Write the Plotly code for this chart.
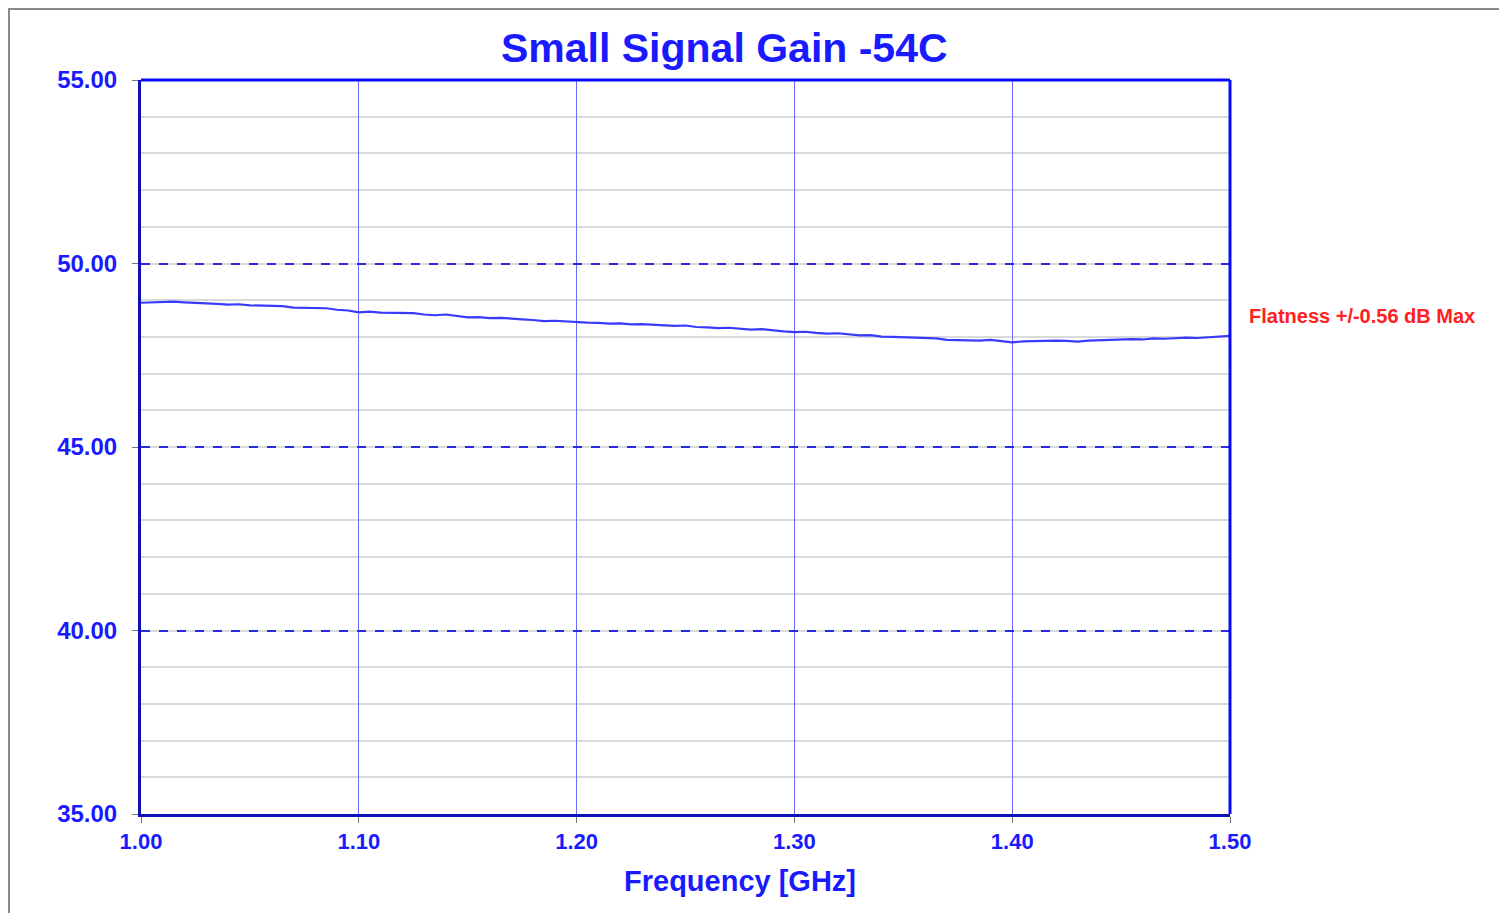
import plotly.graph_objects as go

freq_ghz = [1.000, 1.005, 1.010, 1.015, 1.020, 1.025, 1.030, 1.035, 1.040, 1.045,
            1.050, 1.055, 1.060, 1.065, 1.070, 1.075, 1.080, 1.085, 1.090, 1.095,
            1.100, 1.105, 1.110, 1.115, 1.120, 1.125, 1.130, 1.135, 1.140, 1.145,
            1.150, 1.155, 1.160, 1.165, 1.170, 1.175, 1.180, 1.185, 1.190, 1.195,
            1.200, 1.205, 1.210, 1.215, 1.220, 1.225, 1.230, 1.235, 1.240, 1.245,
            1.250, 1.255, 1.260, 1.265, 1.270, 1.275, 1.280, 1.285, 1.290, 1.295,
            1.300, 1.305, 1.310, 1.315, 1.320, 1.325, 1.330, 1.335, 1.340, 1.345,
            1.350, 1.355, 1.360, 1.365, 1.370, 1.375, 1.380, 1.385, 1.390, 1.395,
            1.400, 1.405, 1.410, 1.415, 1.420, 1.425, 1.430, 1.435, 1.440, 1.445,
            1.450, 1.455, 1.460, 1.465, 1.470, 1.475, 1.480, 1.485, 1.490, 1.495,
            1.500]

gain_db = [48.93, 48.94, 48.94, 48.96, 48.94, 48.92, 48.91, 48.90, 48.88, 48.89,
           48.86, 48.85, 48.83, 48.84, 48.80, 48.79, 48.77, 48.78, 48.74, 48.72,
           48.67, 48.69, 48.66, 48.66, 48.64, 48.65, 48.61, 48.59, 48.61, 48.58,
           48.53, 48.54, 48.51, 48.52, 48.49, 48.48, 48.46, 48.43, 48.44, 48.42,
           48.41, 48.39, 48.38, 48.36, 48.37, 48.34, 48.35, 48.33, 48.32, 48.30,
           48.31, 48.27, 48.26, 48.24, 48.25, 48.22, 48.20, 48.21, 48.17, 48.15,
           48.13, 48.14, 48.11, 48.09, 48.10, 48.06, 48.04, 48.05, 48.01, 48.00,
           47.99, 47.97, 47.95, 47.96, 47.92, 47.91, 47.92, 47.90, 47.92, 47.89,
           47.85, 47.88, 47.89, 47.88, 47.90, 47.89, 47.87, 47.90, 47.91, 47.93,
           47.92, 47.94, 47.93, 47.96, 47.95, 47.97, 47.98, 47.97, 47.99, 48.00,
           48.03]

x_ticks = [1.00, 1.10, 1.20, 1.30, 1.40, 1.50]
y_ticks = [35.00, 40.00, 45.00, 50.00, 55.00]

title_text = "Small Signal Gain -54C"
x_title = "Frequency [GHz]"
note_text = "Flatness +/-0.56 dB Max"

FONT = "Liberation Sans, Arial, sans-serif"
BLUE = "#1a1aff"

# the page body has an 8px margin; place plot area so it lands at x 141-1230, y 80-814
L, T, PW, PH = 133, 72, 1089, 734
W, H = 1499, 905

fig = go.Figure()
fig.add_trace(go.Scatter(x=freq_ghz, y=gain_db, mode="lines",
                         line=dict(color="#3a3aff", width=2.2), showlegend=False,
                         hoverinfo="x+y"))

fig.update_layout(
    width=W, height=H,
    margin=dict(l=L, r=W - L - PW, t=T, b=H - T - PH),
    paper_bgcolor="white", plot_bgcolor="white",
    font=dict(family=FONT, color=BLUE),
    showlegend=False,
)

fig.update_xaxes(
    range=[1.0, 1.5], tickvals=x_ticks, ticktext=[f"{v:.2f}" for v in x_ticks],
    tickfont=dict(size=22, family=FONT, color=BLUE, weight="bold"),
    ticks="outside", ticklen=6, tickcolor="#777777", tickwidth=1,
    showgrid=True, gridcolor="#6b6bff", gridwidth=1.3,
    showline=True, linecolor="#1010b8", linewidth=3,
    zeroline=False,
)

fig.update_yaxes(
    range=[35, 55], tickvals=y_ticks, ticktext=[f"{v:.2f}" for v in y_ticks],
    tickfont=dict(size=24, family=FONT, color=BLUE, weight="bold"),
    ticks="outside", ticklen=6, tickcolor="#777777", tickwidth=1,
    ticklabelstandoff=10,
    showgrid=True, gridcolor="#2a2ae0", gridwidth=1.5, griddash="dash",
    minor=dict(dtick=1, showgrid=True, gridcolor="#dadada", gridwidth=2,
               griddash="solid", ticks=""),
    showline=True, linecolor="#1010b8", linewidth=3,
    zeroline=False,
)

# top and right plot frame (bright blue)
fig.add_shape(type="line", xref="paper", yref="paper", x0=0, x1=1, y0=1, y1=1,
              line=dict(color="#0a0aff", width=3), layer="above")
fig.add_shape(type="line", xref="paper", yref="paper", x0=1, x1=1, y0=0, y1=1,
              line=dict(color="#0a0aff", width=3), layer="above")

# outer gray frame (kept inside the figure area)
fig.add_shape(type="rect", xref="paper", yref="paper",
              x0=(9 - 141) / PW, x1=(1500 - 141) / PW, y0=-0.3, y1=(814 - 9) / PH,
              line=dict(color="#8a8a8a", width=2), fillcolor="rgba(0,0,0,0)", layer="below")

fig.add_annotation(text=title_text, xref="paper", yref="paper",
                   x=(724 - 141) / PW, y=(814 - 48) / PH, xanchor="center", yanchor="middle",
                   showarrow=False,
                   font=dict(size=41, family=FONT, color="#1a1aff", weight="bold"))

fig.add_annotation(text=x_title, xref="paper", yref="paper",
                   x=(740 - 141) / PW, y=(814 - 881) / PH, xanchor="center", yanchor="middle",
                   showarrow=False,
                   font=dict(size=29, family=FONT, color=BLUE, weight="bold"))

fig.add_annotation(text=note_text, xref="paper", yref="paper",
                   x=(1247 - 141) / PW, y=(814 - 316) / PH, xanchor="left", yanchor="middle",
                   showarrow=False,
                   font=dict(size=20, family=FONT, color="#ff2020", weight="bold"))

fig.write_html("out.html")
